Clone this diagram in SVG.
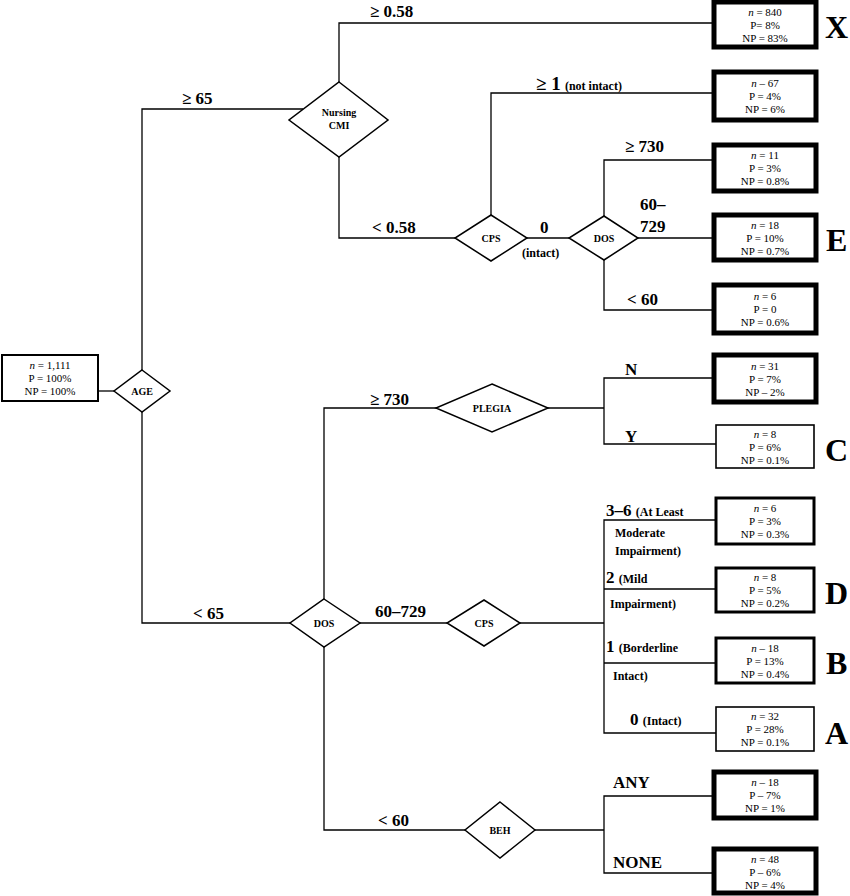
<svg xmlns="http://www.w3.org/2000/svg" width="850" height="896" viewBox="0 0 850 896">
<style>
  .bg{fill:#fff}
  .ln{fill:none;stroke:#000;stroke-width:1.3}
  .dm{fill:#fff;stroke:#000;stroke-width:1.5}
  .bx{fill:#fff;stroke:#000}
  .thick{stroke-width:5}
  .med{stroke-width:3}
  .thin{stroke-width:1.6}
  .bt{font-family:"Liberation Serif","Times New Roman",serif;font-size:11px;text-anchor:middle;fill:#000}
  .dt{font-family:"Liberation Serif","Times New Roman",serif;font-size:10px;font-weight:bold;text-anchor:middle;fill:#000}
  .lb{font-family:"Liberation Serif","Times New Roman",serif;font-size:17px;font-weight:bold;fill:#000}
  .sm{font-size:12px}
  .big{font-family:"Liberation Serif","Times New Roman",serif;font-size:32px;font-weight:bold;fill:#000}
</style>
<rect class="bg" x="0" y="0" width="850" height="896"/>

<g id="connectors">
  <path class="ln" d="M98,391 H114"/>
  <path class="ln" d="M142,370 V109 H303"/>
  <path class="ln" d="M142,412 V623 H290"/>
  <path class="ln" d="M339,82 V23 H714"/>
  <path class="ln" d="M339,157 V238 H455"/>
  <path class="ln" d="M491,215 V93 H714"/>
  <path class="ln" d="M527,238 H569"/>
  <path class="ln" d="M604,216 V160 H714"/>
  <path class="ln" d="M638,238 H714"/>
  <path class="ln" d="M604,260 V310 H714"/>
  <path class="ln" d="M324,599 V408 H436"/>
  <path class="ln" d="M360,623 H447"/>
  <path class="ln" d="M324,647 V830 H465"/>
  <path class="ln" d="M548,408 H604"/>
  <path class="ln" d="M714,378 H604 V444 H716"/>
  <path class="ln" d="M520,623 H604"/>
  <path class="ln" d="M716,520 H604 V733 H716"/>
  <path class="ln" d="M604,589 H716"/>
  <path class="ln" d="M604,663 H716"/>
  <path class="ln" d="M535,830 H604"/>
  <path class="ln" d="M714,796 H604 V873 H714"/>
</g>

<g id="root">
  <rect class="bx" x="2" y="355" width="96" height="46" style="stroke-width:2"/>
  <text class="bt" x="50" y="369"><tspan font-style="italic">n</tspan> = 1,111</text>
  <text class="bt" x="50" y="382">P = 100%</text>
  <text class="bt" x="50" y="395">NP = 100%</text>
</g>

<g id="age">
  <polygon class="dm" points="142,370 170,391 142,412 114,391"/>
  <text class="dt" x="142" y="395">AGE</text>
</g>

<g id="nursing-cmi">
  <polygon class="dm" points="339,82 388,120 339,157 289,120"/>
  <text class="dt" x="339" y="116">Nursing</text>
  <text class="dt" x="339" y="129">CMI</text>
</g>

<g id="cps-upper">
  <polygon class="dm" points="491,215 527,238 491,261 455,238"/>
  <text class="dt" x="491" y="242">CPS</text>
</g>

<g id="dos-upper">
  <polygon class="dm" points="604,216 638,238 604,260 569,238"/>
  <text class="dt" x="604" y="242">DOS</text>
</g>

<g id="dos-lower">
  <polygon class="dm" points="324,599 360,623 324,647 290,623"/>
  <text class="dt" x="324" y="627">DOS</text>
</g>

<g id="plegia">
  <polygon class="dm" points="492,384 548,408 492,432 436,408"/>
  <text class="dt" x="492" y="412">PLEGIA</text>
</g>

<g id="cps-lower">
  <polygon class="dm" points="484,600 520,623 484,646 447,623"/>
  <text class="dt" x="484" y="627">CPS</text>
</g>

<g id="beh">
  <polygon class="dm" points="500,802 535,830 500,858 465,830"/>
  <text class="dt" x="500" y="834">BEH</text>
</g>

<g id="leaf-x">
  <rect class="bx thick" x="714" y="2" width="102" height="45"/>
  <text class="bt" x="765" y="16"><tspan font-style="italic">n</tspan> = 840</text>
  <text class="bt" x="765" y="29">P= 8%</text>
  <text class="bt" x="765" y="42">NP = 83%</text>
  <text class="big" x="825" y="38">X</text>
</g>

<g id="leaf-67">
  <rect class="bx thick" x="714" y="72" width="102" height="48"/>
  <text class="bt" x="765" y="87"><tspan font-style="italic">n</tspan> – 67</text>
  <text class="bt" x="765" y="100">P = 4%</text>
  <text class="bt" x="765" y="113">NP = 6%</text>
</g>

<g id="leaf-11">
  <rect class="bx thick" x="714" y="145" width="102" height="46"/>
  <text class="bt" x="765" y="159"><tspan font-style="italic">n</tspan> = 11</text>
  <text class="bt" x="765" y="172">P = 3%</text>
  <text class="bt" x="765" y="185">NP = 0.8%</text>
</g>

<g id="leaf-18e">
  <rect class="bx thick" x="714" y="215" width="102" height="45"/>
  <text class="bt" x="765" y="229"><tspan font-style="italic">n</tspan> = 18</text>
  <text class="bt" x="765" y="242">P = 10%</text>
  <text class="bt" x="765" y="255">NP = 0.7%</text>
  <text class="big" x="826" y="251">E</text>
</g>

<g id="leaf-6">
  <rect class="bx thick" x="714" y="285" width="102" height="48"/>
  <text class="bt" x="765" y="300"><tspan font-style="italic">n</tspan> = 6</text>
  <text class="bt" x="765" y="313">P = 0</text>
  <text class="bt" x="765" y="326">NP = 0.6%</text>
</g>

<g id="leaf-31">
  <rect class="bx thick" x="714" y="355" width="102" height="47"/>
  <text class="bt" x="765" y="370"><tspan font-style="italic">n</tspan> = 31</text>
  <text class="bt" x="765" y="383">P = 7%</text>
  <text class="bt" x="765" y="396">NP – 2%</text>
</g>

<g id="leaf-8c">
  <rect class="bx thin" x="716" y="425" width="98" height="43"/>
  <text class="bt" x="765" y="438"><tspan font-style="italic">n</tspan> = 8</text>
  <text class="bt" x="765" y="451">P = 6%</text>
  <text class="bt" x="765" y="464">NP = 0.1%</text>
  <text class="big" x="825" y="461">C</text>
</g>

<g id="leaf-6d">
  <rect class="bx med" x="716" y="498" width="98" height="46"/>
  <text class="bt" x="765" y="512"><tspan font-style="italic">n</tspan> = 6</text>
  <text class="bt" x="765" y="525">P = 3%</text>
  <text class="bt" x="765" y="538">NP = 0.3%</text>
</g>

<g id="leaf-8d">
  <rect class="bx med" x="716" y="568" width="98" height="44"/>
  <text class="bt" x="765" y="581"><tspan font-style="italic">n</tspan> = 8</text>
  <text class="bt" x="765" y="594">P = 5%</text>
  <text class="bt" x="765" y="607">NP = 0.2%</text>
  <text class="big" x="825" y="604">D</text>
</g>

<g id="leaf-18b">
  <rect class="bx med" x="716" y="638" width="98" height="45"/>
  <text class="bt" x="765" y="652"><tspan font-style="italic">n</tspan> – 18</text>
  <text class="bt" x="765" y="665">P = 13%</text>
  <text class="bt" x="765" y="678">NP = 0.4%</text>
  <text class="big" x="826" y="674">B</text>
</g>

<g id="leaf-32a">
  <rect class="bx thin" x="716" y="707" width="98" height="44"/>
  <text class="bt" x="765" y="720"><tspan font-style="italic">n</tspan> = 32</text>
  <text class="bt" x="765" y="733">P = 28%</text>
  <text class="bt" x="765" y="746">NP = 0.1%</text>
  <text class="big" x="825" y="744">A</text>
</g>

<g id="leaf-18any">
  <rect class="bx thick" x="714" y="772" width="102" height="46"/>
  <text class="bt" x="765" y="786"><tspan font-style="italic">n</tspan> – 18</text>
  <text class="bt" x="765" y="799">P – 7%</text>
  <text class="bt" x="765" y="812">NP = 1%</text>
</g>

<g id="leaf-48">
  <rect class="bx thick" x="714" y="849" width="102" height="44"/>
  <text class="bt" x="765" y="863"><tspan font-style="italic">n</tspan> = 48</text>
  <text class="bt" x="765" y="876">P – 6%</text>
  <text class="bt" x="765" y="889">NP = 4%</text>
</g>

<g id="labels">
  <text class="lb" x="370" y="17">≥ 0.58</text>
  <text class="lb" x="182" y="104">≥ 65</text>
  <text class="lb" x="536" y="90"><tspan font-size="19">≥ 1</tspan> <tspan class="sm">(not intact)</tspan></text>
  <text class="lb" x="625" y="152">≥ 730</text>
  <text class="lb" x="640" y="210">60–</text>
  <text class="lb" x="640" y="232">729</text>
  <text class="lb" x="627" y="305">&lt; 60</text>
  <text class="lb" x="372" y="233">&lt; 0.58</text>
  <text class="lb" x="540" y="233">0</text>
  <text class="lb sm" x="522" y="257">(intact)</text>
  <text class="lb" x="370" y="405">≥ 730</text>
  <text class="lb" x="625" y="375">N</text>
  <text class="lb" x="625" y="442">Y</text>
  <text class="lb" x="193" y="619">&lt; 65</text>
  <text class="lb" x="375" y="617">60–729</text>
  <text class="lb" x="606" y="516">3–6 <tspan class="sm">(At Least</tspan></text>
  <text class="lb sm" x="615" y="537">Moderate</text>
  <text class="lb sm" x="615" y="555">Impairment)</text>
  <text class="lb" x="606" y="583">2 <tspan class="sm">(Mild</tspan></text>
  <text class="lb sm" x="610" y="608">Impairment)</text>
  <text class="lb" x="606" y="652">1 <tspan class="sm">(Borderline</tspan></text>
  <text class="lb sm" x="613" y="680">Intact)</text>
  <text class="lb" x="630" y="725">0 <tspan class="sm">(Intact)</tspan></text>
  <text class="lb" x="378" y="826">&lt; 60</text>
  <text class="lb" x="613" y="788">ANY</text>
  <text class="lb" x="613" y="868">NONE</text>
</g>
</svg>
